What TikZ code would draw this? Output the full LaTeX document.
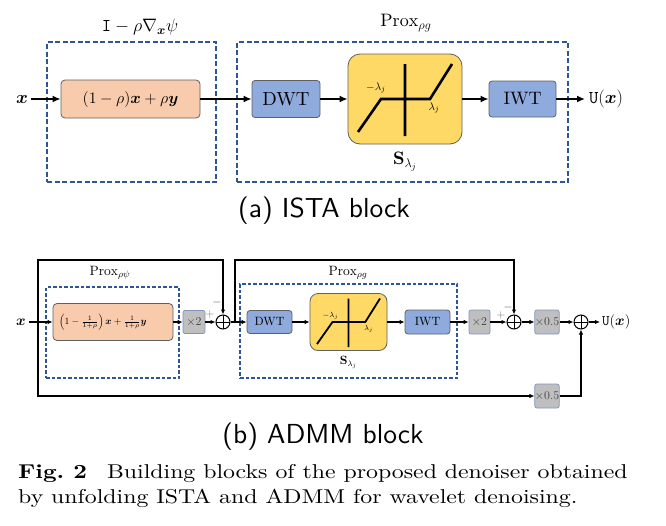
\RequirePackage{fix-cm}
\documentclass[tikz,border=0pt]{standalone}
\usepackage{amsmath}
\usepackage{bm}
\usepackage{fontspec}
\setmainfont{lmroman10}[Extension=.otf, UprightFont=*-regular, BoldFont=*-bold, ItalicFont=*-italic, BoldItalicFont=*-bolditalic]
\setsansfont{lmsans10}[Extension=.otf, UprightFont=*-regular, BoldFont=*-bold]
\newfontfamily\capfont{lmroman10}[Extension=.otf, UprightFont=*-regular, BoldFont=*-bold, FakeStretch=1.19]
\usetikzlibrary{arrows.meta, positioning, calc}

\definecolor{peach}{HTML}{F8CBAD}
\definecolor{waveblue}{HTML}{8FAADC}
\definecolor{softyellow}{HTML}{FFD966}
\definecolor{gaingray}{HTML}{BFBFBF}
\definecolor{zoneblue}{HTML}{2F5597}
\definecolor{edgegray}{HTML}{606060}
\definecolor{gainedge}{HTML}{7F93BD}

\begin{document}
\begin{tikzpicture}[x=1pt, y=-1pt,
  bigfont/.style={font=\fontsize{18}{21}\selectfont},
  smallfont/.style={font=\fontsize{12}{14}\selectfont},
  zone/.style={draw=zoneblue, inner sep=0pt},
  grad/.style={draw=edgegray, fill=peach, line width=0.8pt, rounded corners=4pt, inner sep=0pt},
  wave/.style={draw=edgegray, fill=waveblue, line width=0.8pt, rounded corners=3pt, inner sep=0pt},
  thresh/.style={draw=edgegray, fill=softyellow, line width=0.8pt, rounded corners=12pt, inner sep=0pt},
  gain/.style={draw=gainedge, fill=gaingray, line width=0.7pt, rounded corners=2pt, inner sep=0pt, text=black!75, font=\fontsize{12}{14}\selectfont},
  adder/.style={circle, draw, line width=1pt, minimum size=14pt, inner sep=0pt,
    path picture={\draw[line width=1pt] (path picture bounding box.north) -- (path picture bounding box.south)
      (path picture bounding box.west) -- (path picture bounding box.east);}},
  flow/.style={-{Latex[length=8pt,width=7pt]}, line width=2pt},
  flowb/.style={-{Latex[length=5pt,width=4.5pt]}, line width=1.2pt},
  captxt/.style={font=\capfont\fontsize{20}{26}\selectfont, anchor=base west, inner sep=0pt}]

\useasboundingbox (0,0) rectangle (666,525);

%% (a) ISTA block
\node[zone, line width=2.2pt, dash pattern=on 5pt off 2.5pt, minimum width=169pt, minimum height=140pt] (gradzone) at (131.5,112) {};
\node[zone, line width=2.2pt, dash pattern=on 5pt off 2.5pt, minimum width=331pt, minimum height=140pt] (proxzone) at (402.5,112) {};
\node[bigfont] (gradlbl) at (140,27) {$\mathtt{I}-\rho\nabla_{\bm{x}}\psi$};
\node[bigfont] (proxlbl) at (406,23) {$\mathrm{Prox}_{\rho g}$};

\node[bigfont] (xin) at (22,99) {$\bm{x}$};
\node[grad, font=\fontsize{16}{19}\selectfont, minimum width=139pt, minimum height=38pt] (lin) at (130.5,99) {$(1-\rho)\bm{x}+\rho\bm{y}$};
\node[wave, font=\fontsize{19}{22}\selectfont, minimum width=68pt, minimum height=37pt] (dwt) at (286,99) {DWT};
\node[thresh, minimum width=114pt, minimum height=90pt] (soft) at (405,99) {};
\node[wave, bigfont, minimum width=67pt, minimum height=36pt] (iwt) at (522.5,99) {IWT};
\node[bigfont, anchor=west, inner sep=4pt] (uout) at (585,99) {$\mathtt{U}(\bm{x})$};
\node[bigfont, below=4pt of soft] (softlbl) {$\mathbf{S}_{\lambda_j}$};

% soft threshold curve
\draw[line width=2.6pt, shift={(soft.center)}] (0,-35) -- (0,37) (-47,33) -- (-24,0) -- (25,0) -- (47,-35);
\node[font=\fontsize{11}{13}\selectfont] (neglam) at ($(soft.center)+(-29,-11)$) {$-\lambda_j$};
\node[font=\fontsize{11}{13}\selectfont] (poslam) at ($(soft.center)+(29,9)$) {$\lambda_j$};

\draw[flow] (xin) -- (lin);
\draw[flow] (lin) -- (dwt);
\draw[flow] (dwt) -- (soft);
\draw[flow] (soft) -- (iwt);
\draw[flow] (iwt) -- (uout);

\node[font=\sffamily\fontsize{27.5}{30}\selectfont, anchor=base] (capa) at (324,217) {(a) ISTA block};

%% (b) ADMM block
\node[zone, line width=1.4pt, dash pattern=on 3.5pt off 2pt, minimum width=133pt, minimum height=91pt] (proxpsi) at (112.5,332.5) {};
\node[zone, line width=1.4pt, dash pattern=on 3.5pt off 2pt, minimum width=217pt, minimum height=94pt] (proxg) at (348.5,331) {};
\node[font=\fontsize{13.5}{15}\selectfont] (psilbl) at (110,273) {$\mathrm{Prox}_{\rho\psi}$};
\node[font=\fontsize{13.5}{15}\selectfont] (glbl) at (348,273) {$\mathrm{Prox}_{\rho g}$};

\node[font=\fontsize{14.5}{16}\selectfont] (xin2) at (21,322) {$\bm{x}$};
\coordinate (split) at (38,322);
\node[grad, font=\fontsize{9.5}{11}\selectfont, minimum height=37pt, text width=108pt, align=left, inner xsep=6pt] (lin2) at (113,322) {$\left(1-\frac{1}{1+\rho}\right)\bm{x}+\frac{1}{1+\rho}\bm{y}$};
\node[gain, minimum width=22pt, minimum height=23pt] (dbl1) at (194,322) {$\times2$};
\node[adder] (sum1) at (223,322) {};
\coordinate (tap) at (235,322);
\node[wave, smallfont, minimum width=45pt, minimum height=23pt] (dwt2) at (269.5,322) {DWT};
\node[thresh, rounded corners=8pt, minimum width=77pt, minimum height=57pt] (soft2) at (348.5,322) {};
\node[wave, smallfont, minimum width=45pt, minimum height=24pt] (iwt2) at (427.5,322) {IWT};
\node[gain, minimum width=21pt, minimum height=24pt] (dbl2) at (479.5,322) {$\times2$};
\node[adder] (sum2) at (514,322) {};
\node[gain, minimum width=24pt, minimum height=24pt] (half1) at (547,322) {$\times0.5$};
\node[adder] (sum3) at (581,322) {};
\node[font=\fontsize{14.5}{16}\selectfont, anchor=west, inner sep=2pt] (uout2) at (600,322) {$\mathtt{U}(\bm{x})$};
\node[gain, minimum width=24pt, minimum height=24pt] (half2) at (547,396) {$\times0.5$};
\node[smallfont, below=2pt of soft2] (soft2lbl) {$\mathbf{S}_{\lambda_j}$};

% soft threshold curve, small
\draw[line width=1.8pt, shift={(soft2.center)}] (0,-23.5) -- (0,25) (-31.5,22) -- (-16,0) -- (16.8,0) -- (31.5,-23.5);
\node[font=\fontsize{7.5}{9}\selectfont] (neglam2) at ($(soft2.center)+(-18,-6)$) {$-\lambda_j$};
\node[font=\fontsize{7.5}{9}\selectfont] (poslam2) at ($(soft2.center)+(20,7)$) {$\lambda_j$};

\node[font=\fontsize{12}{14}\selectfont, text=black!55] (plus1) at (210,314) {$+$};
\node[font=\fontsize{12}{14}\selectfont, text=black!70] (minus1) at (217,302) {$-$};
\node[font=\fontsize{12}{14}\selectfont, text=black!55] (plus2) at (501,315) {$+$};
\node[font=\fontsize{12}{14}\selectfont, text=black!70] (minus2) at (508,307) {$-$};

\coordinate (top1) at (38,260);
\coordinate (top2) at (235,260);
\coordinate (bot) at (38,396);

\draw[flowb] (xin2) -- (lin2);
\draw[flowb] (lin2) -- (dbl1);
\draw[flowb] (dbl1) -- (sum1);
\draw[flowb] (sum1) -- (dwt2);
\draw[flowb] (dwt2) -- (soft2);
\draw[flowb] (soft2) -- (iwt2);
\draw[flowb] (iwt2) -- (dbl2);
\draw[flowb] (dbl2) -- (sum2);
\draw[flowb] (sum2) -- (half1);
\draw[flowb] (half1) -- (sum3);
\draw[flowb] (sum3) -- (uout2);
\draw[flowb] (split) -- (top1) -| (sum1.north);
\draw[flowb] (tap) -- (top2) -| (sum2.north);
\draw[flowb] (split) -- (bot) -- (half2);
\draw[flowb] (half2) -| (sum3.south);

\node[font=\sffamily\fontsize{27.5}{30}\selectfont, anchor=base] (capb) at (323,443) {(b) ADMM block};

%% caption
\node[captxt] (cap1) at (18,478) {\textbf{Fig.~2}\quad Building blocks of the proposed denoiser obtained};
\node[captxt] (cap2) at (18,503) {by unfolding ISTA and ADMM for wavelet denoising.};

\end{tikzpicture}
\end{document}
